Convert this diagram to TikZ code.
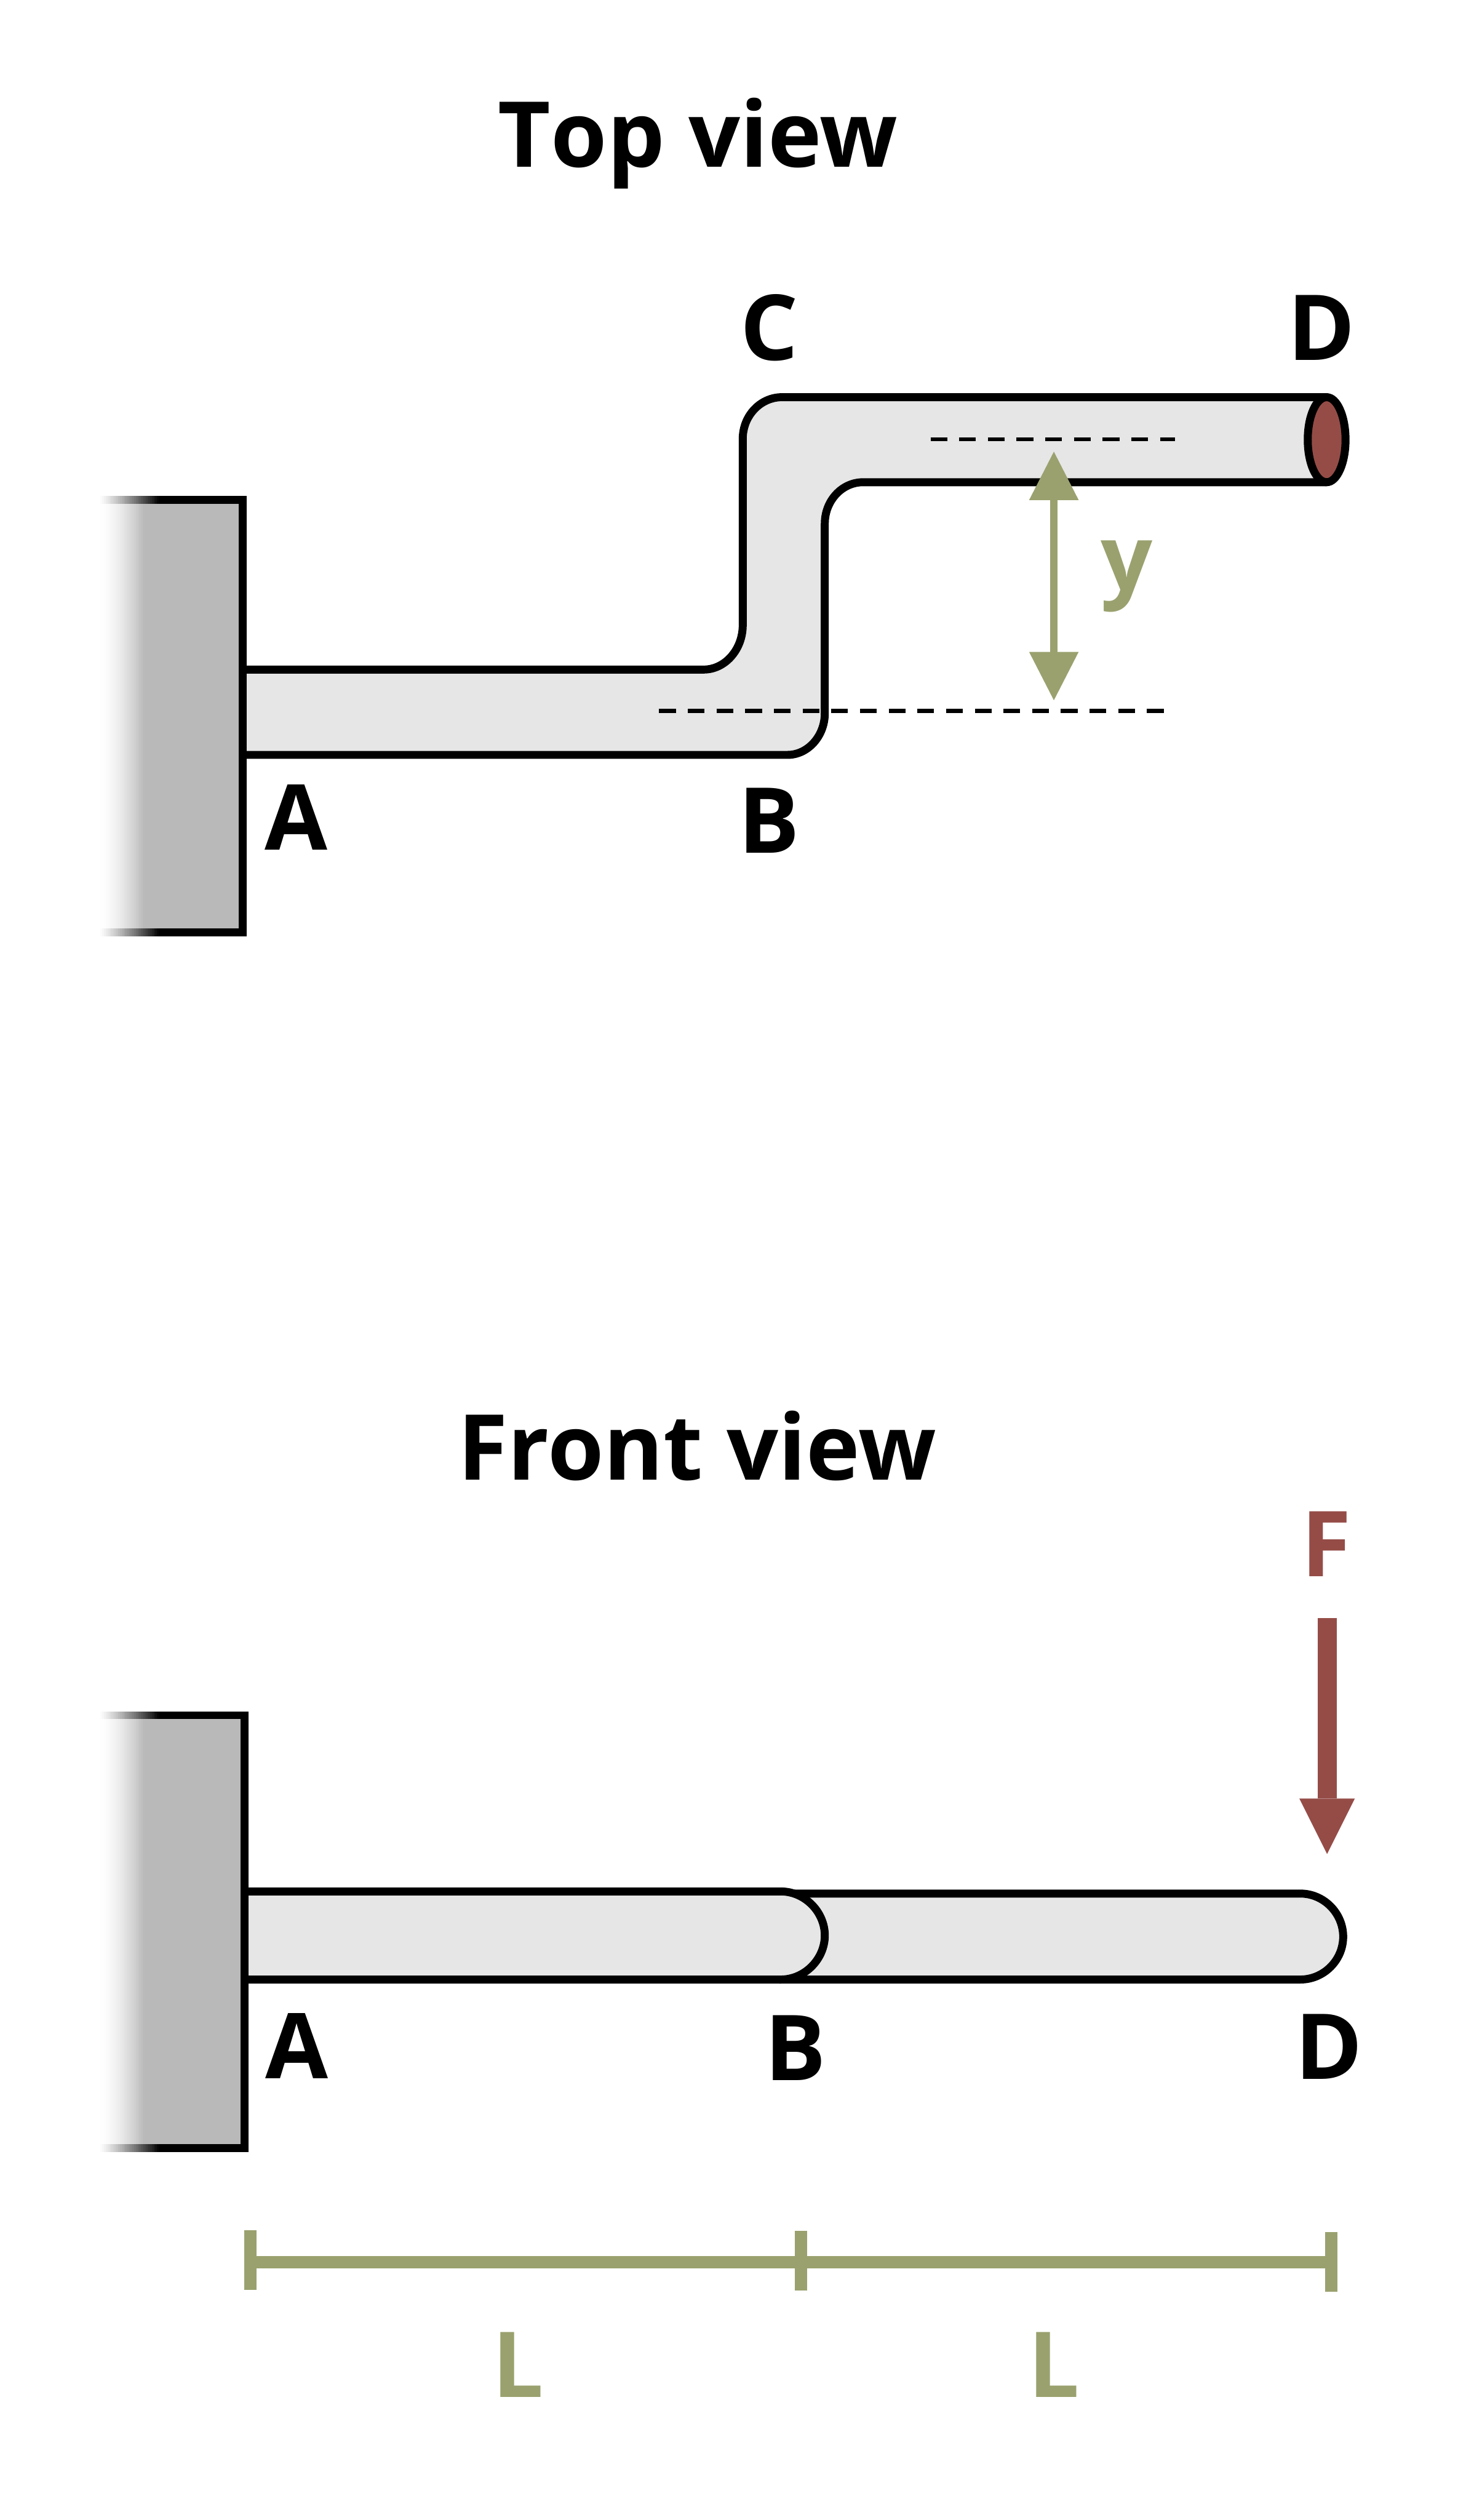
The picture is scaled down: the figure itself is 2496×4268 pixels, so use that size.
\documentclass[tikz,border=0pt]{standalone}
\usepackage{fontspec}
\setmainfont{Open Sans}
\usetikzlibrary{arrows.meta}
\definecolor{olivec}{HTML}{9AA16E}
\definecolor{brownc}{HTML}{954C47}
\definecolor{barc}{HTML}{E6E6E6}
\definecolor{wallc}{HTML}{B9B9B9}
\tikzset{
  x=0.03cm,y=-0.03cm,
  outline/.style={draw=black,line width=0.405cm,line join=round},
  barfill/.style={fill=barc},
  lab/.style={inner sep=0pt,outer sep=0pt,anchor=base,font=\fontsize{131.5pt}{140pt}\selectfont\bfseries},
  dashline/.style={line width=0.21cm,dash pattern=on 0.849cm off 0.609cm},
  dimline/.style={draw=olivec,line width=0.63cm}
}
\newcommand{\wallshape}[3]{% x right centre, top y, bottom y
  \foreach \xs in {167,170,...,245}{
    \pgfmathsetmacro{\pgray}{100*min(1,(\xs-167)/76)^1.6}
    \fill[wallc!\pgray!white] (\xs,#2) rectangle (#1,#3);
  }
  \foreach \xs in {167,170,...,269}{
    \pgfmathsetmacro{\pblack}{100*min(1,(\xs-167)/101)^1.2}
    \fill[black!\pblack!white] (\xs,#2-6.7) rectangle (#1+6.8,#2+6.7);
    \fill[black!\pblack!white] (\xs,#3-6.7) rectangle (#1+6.8,#3+6.7);
  }
  \fill[black] (#1-6.8,#2-6.7) rectangle (#1+6.8,#3+6.7);
}
\begin{document}
\begin{tikzpicture}
\useasboundingbox (0,0) rectangle (2496,4268);
% ---------- Top view ----------
\node[lab,anchor=base west] (title1) at (844,283) {T\kern0pt op view};
\path[barfill,outline]
  (411,1134) -- (1192,1134)
  .. controls (1228,1134) and (1258,1100) .. (1258,1059)
  -- (1258,743.5)
  .. controls (1258,704) and (1288,672.7) .. (1324.5,672.7)
  -- (2247,672.7)
  -- (2247,816.7)
  -- (1462,816.7)
  .. controls (1426,816.7) and (1397,848) .. (1397,887)
  -- (1397,1208)
  .. controls (1397,1247) and (1368,1278.5) .. (1334,1278.5)
  -- (411,1278.5);
\wallshape{410.7}{847}{1579}
\path[fill=brownc,outline] (2247,744.7) ellipse [x radius=32,y radius=72];
\coordinate (d1a) at (1576,744);
\coordinate (d1b) at (1990,744);
\coordinate (d2a) at (1116.4,1204);
\coordinate (d2b) at (1973,1204);
\draw[dashline] (d1a) -- (d1b);
\draw[dashline] (d2a) -- (d2b);
\coordinate (ya) at (1785,765);
\coordinate (yb) at (1785,1186);
\draw[draw=olivec,line width=0.39cm,{Triangle[width=2.52cm,length=2.46cm,line width=0pt 0 0]}-{Triangle[width=2.52cm,length=2.46cm,line width=0pt 0 0]}] (ya) -- (yb);
\node[lab,text=olivec] (ylab) at (1908,1000) {y};
\node[lab] (A1) at (501.5,1440) {A};
\node[lab] (B1) at (1303,1445) {B};
\node[lab] (C1) at (1303,610) {C};
\node[lab] (D1) at (2238,610) {D};
% ---------- Front view ----------
\node[lab,anchor=base west] (title2) at (776,2506) {Front view};
\path[barfill,outline]
  (1320,3207) -- (2202.5,3207)
  .. controls (2242,3207) and (2275,3240) .. (2275,3280)
  .. controls (2275,3320) and (2242,3352.6) .. (2202.5,3352.6)
  -- (1320,3352.6);
\path[barfill,outline]
  (414,3203.4) -- (1322.5,3203.4)
  .. controls (1363,3203.4) and (1397,3238) .. (1397,3278)
  .. controls (1397,3318) and (1363,3352.6) .. (1322.5,3352.6)
  -- (414,3352.6);
\wallshape{414}{2905}{3638}
\coordinate (fa) at (2247.7,2740);
\coordinate (fb) at (2247.7,3140);
\draw[draw=brownc,line width=0.96cm,-{Triangle[width=2.82cm,length=2.82cm,line width=0pt 0 0]}] (fa) -- (fb);
\node[lab,text=brownc] (F2) at (2247,2670) {F};
\node[lab] (A2) at (502.5,3520) {A};
\node[lab] (B2) at (1347,3523) {B};
\node[lab] (D2) at (2251,3521) {D};
% ---------- Dimensions ----------
\coordinate (m1) at (424,3831);
\coordinate (m2) at (1357,3831);
\coordinate (m3) at (2255,3831);
\draw[dimline] (m1) -- (m3);
\draw[dimline] (424,3777) -- (424,3878);
\draw[dimline] (1357,3778) -- (1357,3879);
\draw[dimline] (2255,3780) -- (2255,3881);
\node[lab,text=olivec] (L1) at (878,4060) {L};
\node[lab,text=olivec] (L2) at (1785,4060) {L};
\end{tikzpicture}
\end{document}
